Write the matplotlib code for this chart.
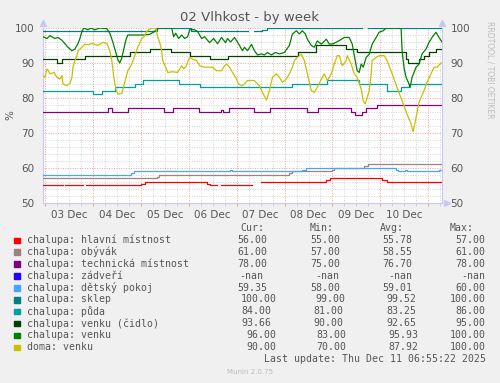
import matplotlib
matplotlib.use("Agg")
import matplotlib.pyplot as plt
import matplotlib.dates as mdates
from matplotlib.ticker import MultipleLocator, FuncFormatter
import numpy as np

# time axis: hours after the start of the week window
start = np.datetime64("2025-12-02T22:55")
end_hours = 200

# step-like series: (hour, value) change points
red_h = [0, 10, 11, 20, 21.5, 49, 51, 82, 83.5, 87, 89, 105, 109.5, 142, 144, 170, 172.5, 200]
red_v = [55, np.nan, 55, np.nan, 55, 55.5, 56, 55.5, 55, np.nan, 55, np.nan, 56, 56.5, 57, 56.5, 56, 56]

brown_h = [0, 57, 58, 123.5, 125, 145, 146, 161, 163, 200]
brown_v = [57, 57.5, 58, 58.5, 59, 59.5, 60, 60.5, 61, 61]

purple_h = [0, 32.5, 34.5, 42.5, 60.5, 65, 78, 89, 90, 93, 106, 114, 132.5, 138, 154.5,
            156.5, 160, 162, 167.5, 200]
purple_v = [76, 77, 76, 77, 76, 77, 76, 76.5, 76, 77, 76, 77, 76, 77, 76, 75, 76, 77, 78, 78]

blue_h = [0, 200]
blue_v = [np.nan, np.nan]

lblue_h = [0, 44, 45.5, 93.5, 94.5, 130, 132, 177, 178, 181.5, 182.5, 197, 198.5, 200]
lblue_v = [58, 58.5, 59, 59.5, 59, 59.5, 60, 59.5, 59, 59.5, 59, 59.2, 59.35, 59.35]

teal_h = [0, 57, 74, 103, 106, 110, 112.5, 160, 163, 200]
teal_v = [99, 100, 99, np.nan, 99, 99.5, 100, np.nan, 100, 100]

cyan_h = [0, 25, 29.5, 36, 46, 50, 68, 78.5, 125, 142.5, 158.5, 172.5, 179.5, 183.5, 200]
cyan_v = [82, 81, 82, 83, 84, 85, 84, 83, 84, 85, 84, 82, 83, 84, 84]

dgreen_h = [0, 7, 9.5, 21, 43.5, 53.5, 64, 73.5, 83.5, 92.5, 128, 137, 152, 157.5, 182,
            183, 188.5, 191, 193.5, 197, 200]
dgreen_v = [91, 90, 91, 92, 93, 94, 93, 92, 91, 92, 93, 95, 94, 93, 91, 90, 91, 92, 93, 94, 93.66]

# wiggly series: (hour, value) samples
green_pts = [
    (0, 97.5), (2, 97), (3.5, 97.8), (6, 97), (7.5, 97.3), (9.5, 96.5), (11, 95.5),
    (12.5, 94.5), (14.5, 93.5), (16, 94), (17.5, 95.5), (18.5, 97), (19.5, 99), (20.5, 100),
    (22.5, 99.5), (24, 100), (26, 99.5), (28.5, 100), (32, 99.8), (33.5, 98.5), (35, 96),
    (36.5, 93), (37.5, 91), (38.5, 90), (39.5, 91.5), (40.5, 94), (41.5, 96.5), (42.5, 98),
    (46, 98), (51, 98), (53.5, 98.2), (56, 99), (57.5, 100), (64.5, 100), (65.5, 97.5),
    (66.5, 98.5), (68, 97), (69.5, 98), (71, 97), (72.5, 97.5), (73.5, 99.5), (76, 99.5),
    (77.5, 99), (79.5, 97), (81, 97.5), (83.5, 95.8), (85.5, 97), (87.5, 95.5), (89.5, 97.3),
    (91.5, 95.8), (92.5, 97), (94, 96), (96, 97.3), (98, 95.5), (100, 93.5), (101, 94.5),
    (102.5, 93.5), (104.5, 95.3), (106, 93.5), (107.5, 92.3), (109.5, 92.6), (111, 92.3),
    (112.5, 93), (114.5, 92.3), (116.5, 93), (118.5, 92.6), (121, 93), (123.5, 95),
    (125, 98.3), (127, 99.2), (128.5, 98.3), (130, 99.2), (131.5, 98.3), (132.5, 96.8),
    (134.5, 95), (136, 94.5), (137.5, 96.3), (139.5, 95.4), (142, 96.8), (143.5, 95.4),
    (145.5, 95.5), (148.5, 96.4), (151, 97.3), (153.5, 97.3), (155, 95.4), (156.5, 90.7),
    (157.5, 87.8), (158.5, 87.3), (159.5, 89.7), (160.5, 88.8), (162, 91.6), (163.5, 92.5),
    (165, 95.4), (167, 97.3), (168.5, 98.8), (170.5, 99.2), (172, 100), (179.5, 100),
    (180, 93.5), (181, 88.5), (182, 85.9), (183.5, 84), (184, 83), (185, 85.9), (187, 88.8),
    (188.5, 89.7), (190, 92.6), (192, 94), (193.5, 95.9), (195, 97.3), (197, 98.8),
    (198.5, 97.3), (200, 96),
]
yellow_pts = [
    (0, 86.4), (1, 85.9), (2, 88.3), (2.5, 88), (3.5, 86.9), (5.5, 87.3), (7, 85.9),
    (8.5, 85.4), (9.5, 86.4), (10, 84), (12, 83.5), (13.5, 84.2), (14.5, 85.9), (15, 88.8),
    (16, 90.7), (17, 92.1), (17.5, 93.5), (19.5, 94.5), (21, 95.4), (22.5, 95.2),
    (24.5, 95.6), (27.5, 95), (30, 95.9), (32, 95.6), (33.5, 93.5), (34.5, 90.7),
    (35.5, 85.9), (36.5, 82.6), (37.5, 81.1), (39.5, 81.3), (41, 84.5), (42.5, 87.8),
    (44.5, 89.7), (46, 92.1), (47.5, 94.5), (49.5, 96.9), (51, 97.8), (52, 99), (53.5, 99.7),
    (55, 100), (56.5, 100), (57, 98.9), (57.5, 97.3), (58.5, 95.9), (59.5, 93.5), (60, 90.7),
    (61.5, 88.8), (62.5, 87.3), (65, 87.5), (67.5, 87.3), (68.5, 88.3), (69.5, 89.2),
    (70.5, 88.3), (72, 89.2), (72.5, 90.2), (73.5, 91.6), (75, 91.1), (77, 90.7),
    (78.5, 89.2), (81, 88.8), (85, 88.8), (87, 87.8), (89.5, 87.8), (91, 89.2), (92, 89.7),
    (93.5, 88.8), (95, 87.3), (97, 85.4), (98, 84), (99.5, 83.5), (101, 84), (102.5, 85),
    (106, 85), (107.5, 84), (108.5, 83.5), (110, 81.6), (112, 79.4), (113.5, 82.1),
    (115, 85.9), (117, 86.9), (118.5, 85.9), (120, 84.5), (122, 85.4), (123.5, 86.9),
    (125, 88.8), (126, 90.7), (127.5, 91.6), (129.5, 92.5), (131, 90.7), (132.5, 86.9),
    (134.5, 82.1), (136, 81.6), (137.5, 83), (139.5, 85.4), (141, 86.9), (142.5, 85),
    (144.5, 86.9), (146, 89.7), (147.5, 92.1), (148.5, 92.1), (150, 89.2), (152, 90.7),
    (152.5, 92.1), (154.5, 89.7), (156, 86.9), (157.5, 85.9), (159.5, 82.6), (160.5, 79.2),
    (161.5, 78.3), (163.5, 82), (164.5, 86.9), (165, 90.7), (167, 91.6), (168.5, 92.1),
    (171, 92.1), (172.5, 90.7), (175, 86.9), (177.5, 83), (180, 79.2), (182.5, 75.4),
    (184.5, 72.6), (185.5, 70.4), (186.5, 73), (188.5, 78.8), (191, 82.1), (192.5, 84.5),
    (194.5, 86.9), (196, 88.8), (197.5, 88.8), (199.5, 90), (200, 90),
]
green_h, green_v = [p[0] for p in green_pts], [p[1] for p in green_pts]
yellow_h, yellow_v = [p[0] for p in yellow_pts], [p[1] for p in yellow_pts]

labels = ["chalupa: hlavní místnost", "chalupa: obývák", "chalupa: technická místnost",
          "chalupa: zádveří", "chalupa: dětský pokoj", "chalupa: sklep", "chalupa: půda",
          "chalupa: venku (čidlo)", "chalupa: venku", "doma: venku"]
colors = ["#FF0000", "#A08080", "#800080", "#2000FF", "#45A5FF", "#008080", "#00A0A0",
          "#004000", "#008000", "#C8C000"]
cur = ["56.00", "61.00", "78.00", "-nan", "59.35", "100.00", "84.00", "93.66", "96.00", "90.00"]
mins = ["55.00", "57.00", "75.00", "-nan", "58.00", "99.00", "81.00", "90.00", "83.00", "70.00"]
avgs = ["55.78", "58.55", "76.70", "-nan", "59.01", "99.52", "83.25", "92.65", "95.93", "87.92"]
maxs = ["57.00", "61.00", "78.00", "-nan", "60.00", "100.00", "86.00", "95.00", "100.00", "100.00"]

series = [(red_h, red_v, True), (brown_h, brown_v, True), (purple_h, purple_v, True),
          (blue_h, blue_v, True), (lblue_h, lblue_v, True), (teal_h, teal_v, True),
          (cyan_h, cyan_v, True), (dgreen_h, dgreen_v, True), (green_h, green_v, False),
          (yellow_h, yellow_v, False)]


def to_time(hours):
    m = np.round(np.asarray(hours, dtype=float) * 60).astype(int)
    return start + m.astype("timedelta64[m]")


W, H = 500, 383
fig = plt.figure(figsize=(W / 100, H / 100), dpi=100)
fig.patch.set_facecolor("#F0F0F0")
ax = fig.add_axes([43 / W, 1 - 203 / H, 399 / W, 175 / H])
ax.set_facecolor("white")

txt = "#555555"

for (hh, vv, step), col in zip(series, colors):
    ax.plot(to_time(hh), vv, color=col, lw=0.9,
            drawstyle="steps-post" if step else "default", zorder=3)

ax.set_xlim(to_time([0])[0], to_time([end_hours])[0])
ax.set_ylim(50, 100)

ax.xaxis.set_major_locator(mdates.DayLocator())
ax.xaxis.set_major_formatter(FuncFormatter(lambda v, p: ""))
ax.xaxis.set_minor_locator(mdates.HourLocator(byhour=[0, 6, 12, 18]))


def noon_label(v, p):
    d = mdates.num2date(v)
    return d.strftime("%d %b") if d.hour == 12 else ""


ax.xaxis.set_minor_formatter(FuncFormatter(noon_label))
ax.yaxis.set_major_locator(MultipleLocator(10))
ax.yaxis.set_minor_locator(MultipleLocator(2))

ax.grid(which="minor", color="#D4D4D4", ls=(0, (1, 1.5)), lw=0.7, zorder=1)
ax.grid(which="major", color="#F0A0A0", ls=(0, (1, 1.5)), lw=0.7, zorder=2)

ax.tick_params(axis="x", which="both", length=2, colors="#C8C8F0", labelcolor=txt,
               labelsize=7.5, pad=3)
ax.tick_params(axis="x", which="major", colors="#F0A0A0")
ax.tick_params(axis="y", which="both", length=0, labelcolor=txt, labelsize=7.5, pad=6,
               labelright=True)

ax.spines["top"].set_visible(False)
for s in ["left", "bottom", "right"]:
    ax.spines[s].set_color("#C8C8F0")
    ax.spines[s].set_linewidth(0.8)

# axis arrows
ax.plot([0], [1.03], marker="^", ms=4, color="#C8C8F0", transform=ax.transAxes, clip_on=False)
ax.plot([1], [1.03], marker="^", ms=4, color="#C8C8F0", transform=ax.transAxes, clip_on=False)
ax.plot([1.013], [0], marker=">", ms=4, color="#C8C8F0", transform=ax.transAxes, clip_on=False)

fig.text(250 / W, 1 - 18 / H, "02 Vlhkost - by week", ha="center", va="center",
         fontsize=9.5, color=txt)
fig.text(10 / W, 1 - 115 / H, "%", rotation=90, ha="center", va="center",
         fontsize=7.5, color=txt)
fig.text(490 / W, 1 - 70 / H, "RRDTOOL / TOBI OETIKER", rotation=270, ha="center",
         va="center", fontsize=5.5, color="#BBBBBB")

# legend
mono = "DejaVu Sans Mono"
fs = 7.1
hdr_y = 1 - 227.7 / H
for name, xp in zip(["Cur:", "Min:", "Avg:", "Max:"], [240, 310, 380, 450]):
    fig.text(xp / W, hdr_y, name, family=mono, fontsize=fs, color=txt, va="center")

cur_x = [237.3, 237.3, 237.3, 239.3, 237.3, 240.7, 241.7, 241.7, 246, 246]
min_x = [310, 310, 310.7, 315, 310.7, 315, 313.3, 313.3, 316, 316]
avg_x = [382.7, 382.7, 382.7, 388.3, 382.7, 386.7, 386.7, 386.7, 388.3, 388.3]
for i, lab in enumerate(labels):
    y = 1 - (240 + 11.9 * i) / H
    fig.patches.append(plt.Rectangle((14 / W, y - 3 / H), 5.5 / W, 5.5 / H,
                                     transform=fig.transFigure, color=colors[i]))
    fig.text(26.7 / W, y, lab, family=mono, fontsize=fs, color=txt, va="center")
    fig.text(cur_x[i] / W, y, cur[i], family=mono, fontsize=fs, color=txt, va="center")
    fig.text(min_x[i] / W, y, mins[i], family=mono, fontsize=fs, color=txt, va="center")
    fig.text(avg_x[i] / W, y, avgs[i], family=mono, fontsize=fs, color=txt, va="center")
    fig.text(485.7 / W, y, maxs[i], family=mono, fontsize=fs, color=txt, va="center",
             ha="right")

fig.text(485.7 / W, 1 - 359.3 / H, "Last update: Thu Dec 11 06:55:22 2025", family=mono,
         fontsize=fs, color=txt, va="center", ha="right")
fig.text(250 / W, 1 - 372.3 / H, "Munin 2.0.75", fontsize=5, color="#BBBBBB",
         ha="center", va="center")

fig.savefig("out.png", dpi=100, facecolor=fig.get_facecolor())
